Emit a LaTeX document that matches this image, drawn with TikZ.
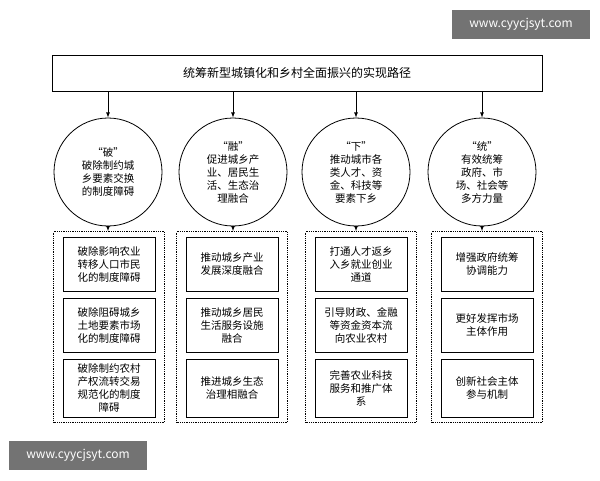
\documentclass[tikz,border=0pt]{standalone}
\usepackage{fontspec}
\setmainfont{Noto Sans CJK SC}
\usetikzlibrary{positioning}
\tikzset{
  titlebox/.style={draw, thick, minimum width=490pt, minimum height=36pt, font=\fontsize{12}{14}\selectfont},
  pathcircle/.style={draw, thick, circle, minimum size=108pt, align=center, font=\fontsize{10.5}{13}\selectfont},
  panel/.style={draw, densely dotted, thick, minimum width=111pt, minimum height=191pt},
  itembox/.style={draw, thick, minimum width=92pt, minimum height=54pt, align=center, font=\fontsize{10.5}{13}\selectfont},
  watermark/.style={fill=black!55, text=white, minimum width=138pt, minimum height=29pt, font=\fontsize{12}{14}\selectfont},
  arr/.style={-latex, thick}
}
\begin{document}
\begin{tikzpicture}[x=1pt, y=-1pt]
  \useasboundingbox (0,0) rectangle (600,480);
  \node[watermark] (wmtop) at (521,24) {www.cyycjsyt.com};
  \node[watermark] (wmbot) at (78,455) {www.cyycjsyt.com};

  \node[titlebox] (path) at (297,73) {统筹新型城镇化和乡村全面振兴的实现路径};

  \node[pathcircle] (po) at (108,172) {“破”\\破除制约城\\乡要素交换\\的制度障碍};
  \node[pathcircle] (rong) at (233,172) {“融”\\促进城乡产\\业、居民生\\活、生态治\\理融合};
  \node[pathcircle] (xia) at (356,172) {“下”\\推动城市各\\类人才、资\\金、科技等\\要素下乡};
  \node[pathcircle] (tong) at (482,172) {“统”\\有效统筹\\政府、市\\场、社会等\\多方力量};

  \node[panel] (popanel) at (109,327) {};
  \node[panel] (rongpanel) at (232,327) {};
  \node[panel] (xiapanel) at (361,327) {};
  \node[panel] (tongpanel) at (487,327) {};

  % items
  \node[itembox] (po1) at (109,264) {破除影响农业\\转移人口市民\\化的制度障碍};
  \node[itembox] (po2) at (109,325) {破除阻碍城乡\\土地要素市场\\化的制度障碍};
  \node[itembox, minimum height=58pt] (po3) at (109,388) {破除制约农村\\产权流转交易\\规范化的制度\\障碍};
  \node[itembox] (rong1) at (232,264) {推动城乡产业\\发展深度融合};
  \node[itembox] (rong2) at (232,325) {推动城乡居民\\生活服务设施\\融合};
  \node[itembox, minimum height=58pt] (rong3) at (232,388) {推进城乡生态\\治理相融合};
  \node[itembox] (xia1) at (361,264) {打通人才返乡\\入乡就业创业\\通道};
  \node[itembox] (xia2) at (361,325) {引导财政、金融\\等资金资本流\\向农业农村};
  \node[itembox, minimum height=58pt] (xia3) at (361,388) {完善农业科技\\服务和推广体\\系};
  \node[itembox] (tong1) at (487,264) {增强政府统筹\\协调能力};
  \node[itembox] (tong2) at (487,325) {更好发挥市场\\主体作用};
  \node[itembox, minimum height=58pt] (tong3) at (487,388) {创新社会主体\\参与机制};

  \foreach \c/\p in {po/popanel, rong/rongpanel, xia/xiapanel, tong/tongpanel} {
    \draw[arr] (path.south -| \c) -- (\c);
    \draw[arr] (\c.south) -- (\c.south |- \p.north);
  }
\end{tikzpicture}
\end{document}
